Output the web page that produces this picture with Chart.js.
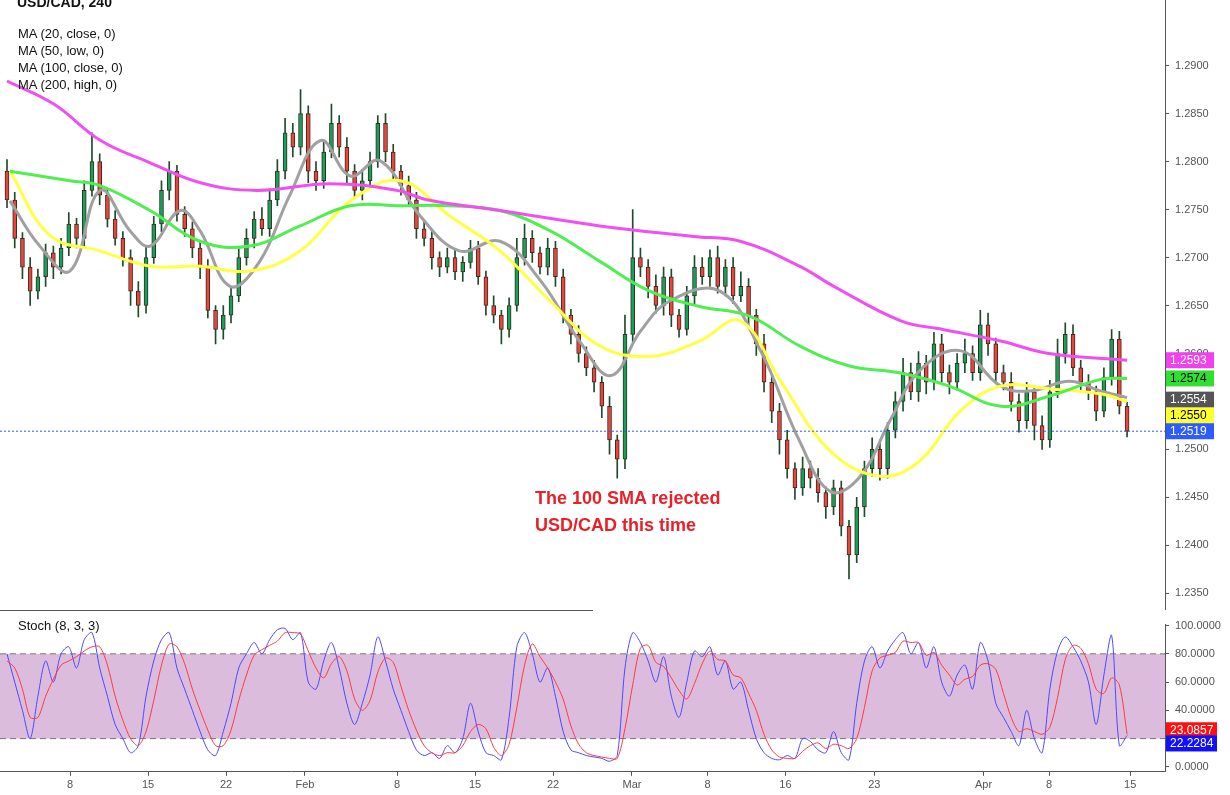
<!DOCTYPE html>
<html>
<head>
<meta charset="utf-8">
<script src="https://cdn.jsdelivr.net/npm/chart.js@4.4.1/dist/chart.umd.min.js"></script>
<style>
  body { margin: 0; background: #fff; font-family: Arial, "Liberation Sans", sans-serif; }
  #wrap { position: relative; width: 1230px; height: 795px; overflow: hidden; }
  canvas { position: absolute; left: 0; }
  #main { top: -12px; }
  #stoch { top: 612px; }
  .txt { position: absolute; color: #111; font-size: 13px; }
  .note { position: absolute; color: #e8202a; font-size: 18px; font-weight: bold; line-height: 27px; }
  #sep { position: absolute; left: 0; top: 610px; width: 593px; border-top: 1px solid #555; }
</style>
</head>
<body>
<div id="wrap">
  <canvas id="main" width="1230" height="634"></canvas>
  <canvas id="stoch" width="1230" height="183"></canvas>
  <div id="sep"></div>
  <div class="txt" style="left:17px;top:-6px;font-weight:bold;font-size:14px">USD/CAD, 240</div>
  <div class="txt" style="left:18px;top:26px">MA (20, close, 0)</div>
  <div class="txt" style="left:18px;top:43px">MA (50, low, 0)</div>
  <div class="txt" style="left:18px;top:60px">MA (100, close, 0)</div>
  <div class="txt" style="left:18px;top:77px">MA (200, high, 0)</div>
  <div class="txt" style="left:18px;top:618px">Stoch (8, 3, 3)</div>
  <div class="note" style="left:535px;top:485px">The 100 SMA rejected<br>USD/CAD this time</div>
</div>
<script>
// 4h candles, two per trading day (x in trading days from Jan 4)
const firstOpen = 1.2790;
const closes = [
  1.2760,1.2720,1.2690,1.2665,1.2680,1.2705,1.2690,1.2710,1.2735,1.2720,
  1.2770,1.2800,1.2765,1.2740,1.2720,1.2700,1.2665,1.2650,1.2700,1.2735,
  1.2770,1.2790,1.2745,1.2730,1.2710,1.2690,1.2645,1.2625,1.2640,1.2660,
  1.2700,1.2720,1.2740,1.2730,1.2760,1.2790,1.2830,1.2815,1.2850,1.2790,
  1.2780,1.2810,1.2840,1.2815,1.2790,1.2770,1.2780,1.2800,1.2840,1.2810,
  1.2790,1.2775,1.2760,1.2730,1.2720,1.2700,1.2690,1.2700,1.2685,1.2695,
  1.2710,1.2680,1.2650,1.2640,1.2625,1.2650,1.2700,1.2720,1.2705,1.2690,
  1.2710,1.2680,1.2640,1.2620,1.2600,1.2585,1.2570,1.2545,1.2510,1.2490,
  1.2620,1.2700,1.2690,1.2670,1.2650,1.2680,1.2640,1.2625,1.2660,1.2690,
  1.2680,1.2700,1.2670,1.2690,1.2660,1.2670,1.2640,1.2610,1.2570,1.2540,
  1.2510,1.2480,1.2460,1.2480,1.2470,1.2455,1.2440,1.2460,1.2420,1.2390,
  1.2440,1.2480,1.2500,1.2480,1.2520,1.2550,1.2580,1.2560,1.2590,1.2570,
  1.2610,1.2580,1.2570,1.2590,1.2600,1.2580,1.2630,1.2610,1.2580,1.2570,
  1.2550,1.2530,1.2560,1.2525,1.2510,1.2560,1.2600,1.2620,1.2585,1.2570,
  1.2560,1.2540,1.2575,1.2615,1.2545,1.2519
];
// wick lengths in pips above / below the body
const wickUp = [
  12,8,6,10,8,9,7,10,12,6, 10,30,8,6,9,7,8,10,12,8, 10,10,6,8,7,6,8,5,10,8,
  9,10,8,12,10,12,15,10,25,8, 10,12,20,8,10,7,12,10,8,10, 8,6,10,8,7,9,6,10,8,6,
  8,7,6,10,5,8,20,15,8,6, 10,7,8,6,9,7,8,6,10,5, 20,50,10,8,12,10,8,6,10,12,
  10,8,12,8,10,15,8,6,10,8, 8,10,6,12,8,10,6,8,7,6, 10,8,12,10,8,10,15,10,12,8,
  12,10,8,10,15,8,15,12,6,8, 10,8,10,6,10,12,15,12,10,8, 8,6,10,10,8,4
];
const wickDown = [
  8,10,12,15,8,10,12,7,8,10, 8,6,10,8,7,9,15,12,8,6, 8,10,7,8,10,12,8,15,10,8,
  6,8,10,7,8,6,8,10,8,12, 10,8,6,10,12,8,10,8,6,10, 8,10,7,10,8,12,10,6,8,10,
  6,8,10,8,15,8,6,8,10,7, 8,10,8,10,9,8,10,12,15,20, 10,8,10,12,8,10,12,8,6,10,
  8,10,7,10,8,6,10,12,10,12, 15,10,12,8,10,10,12,8,10,25, 8,10,8,12,10,8,10,8,10,12,
  8,10,12,8,10,8,8,12,10,8, 10,12,8,15,10,8,6,10,8,10, 8,10,6,8,8,6
];
// moving averages, [trading day, price]
const ma20 = [[0.19,1.2759],[2.1,1.2712],[4.04,1.2686],[5.96,1.2770],[7.88,1.2728],[9.17,1.2712],[11.1,1.2749],[12.37,1.2728],[14.3,1.2670],[16.2,1.2696],[18.1,1.2764],[20.1,1.2822],[22,1.2785],[23.9,1.2801],[26.5,1.2743],[29,1.2707],[31.6,1.2717],[34.2,1.2676],[36.7,1.2613],[38.7,1.2577],[40.6,1.2623],[42.5,1.2655],[45.7,1.2665],[48.3,1.2603],[50.8,1.2509],[52.8,1.2456],[54.7,1.2472],[56.6,1.2530],[58.5,1.2582],[61.1,1.2603],[63.7,1.2566],[65.6,1.2561],[68.1,1.2571],[70.1,1.2561],[71.8,1.2554]];
const ma50 = [[0.19,1.2790],[2.76,1.2723],[5.96,1.2707],[9.17,1.2691],[12.37,1.2691],[15.58,1.2686],[18.8,1.2707],[22,1.2759],[25.2,1.2780],[28.4,1.2743],[31.6,1.2707],[34.8,1.2655],[38,1.2608],[41.2,1.2597],[44.4,1.2613],[47,1.2634],[49.6,1.2571],[52.8,1.2498],[56,1.2472],[58.5,1.2488],[61.1,1.2540],[63.7,1.2566],[66.9,1.2563],[70.1,1.2558],[71.8,1.2550]];
const ma100 = [[0.19,1.2790],[4.04,1.2780],[5.96,1.2775],[9.17,1.2749],[12.37,1.2717],[15.58,1.2712],[18.8,1.2733],[22,1.2754],[25.2,1.2754],[28.4,1.2754],[31.6,1.2749],[34.8,1.2728],[38,1.2696],[41.2,1.2665],[44.4,1.2649],[47.6,1.2639],[50.8,1.2608],[54,1.2587],[57.2,1.2580],[60.4,1.2566],[63.7,1.2545],[66.9,1.2556],[70.1,1.2573],[71.8,1.2574]];
const ma200 = [[0,1.2884],[3,1.2860],[6,1.2822],[9,1.2800],[12.4,1.2778],[16,1.2770],[20.7,1.2777],[25,1.2770],[27,1.2760],[31.6,1.2749],[38,1.2733],[44,1.2722],[47,1.2717],[50.8,1.2691],[53,1.2670],[57.3,1.2634],[60,1.2625],[63.7,1.2613],[66.8,1.2600],[71.8,1.2593]];
// stochastic %K and %D
const stochK = [
  80,60,40,20,50,75,60,80,85,70, 90,95,70,50,30,20,10,15,50,75, 90,95,70,55,40,25,12,8,25,45,
  70,80,88,80,90,97,98,90,95,60, 55,75,88,70,45,30,45,65,92,75, 55,40,25,12,8,10,6,15,10,20,
  45,25,10,8,5,35,85,95,80,60, 70,50,25,12,10,8,7,6,4,8, 70,95,88,75,60,78,50,35,60,82,
  78,85,65,75,55,60,40,20,10,6, 5,8,6,20,18,12,10,25,10,5, 45,75,85,70,82,90,95,80,88,70,
  85,60,50,65,72,55,88,75,45,35, 25,15,40,20,10,55,82,92,85,75, 60,30,65,93,15,22.2284
];
const stochD = [
  75,70,55,35,35,50,62,72,75,78, 82,85,85,72,50,33,20,15,25,47, 72,87,85,73,55,40,26,15,15,26,
  47,65,79,83,86,89,95,95,94,82, 70,63,73,78,68,48,40,47,67,77, 74,57,40,26,15,10,8,10,10,15,
  25,30,27,14,8,16,42,72,87,78, 70,60,48,29,16,10,8,7,6,6, 27,58,84,86,74,71,63,54,48,59,
  73,82,76,75,65,63,52,40,23,12, 7,6,6,11,15,17,13,16,15,13, 20,42,68,77,79,81,89,88,88,79,
  81,72,65,58,62,64,72,73,69,52, 35,25,27,25,23,28,49,76,86,84, 73,55,52,63,58,23.0857
];
const priceTicks = [1.235,1.24,1.245,1.25,1.255,1.26,1.265,1.27,1.275,1.28,1.285,1.29];
const stochTicks = [0,20,40,60,80,100];
const dayTicks = [4.04,9.04,14.04,19.1,25,30,35,40.06,44.9,49.9,55.6,62.6,66.8,72];
const dayLabels = ['8','15','22','Feb','8','15','22','Mar','8','16','23','Apr','8','15'];

const lastX = 71.8;
const xOf = i => i * lastX / (closes.length - 1);
const opens = closes.map((c, i) => i === 0 ? firstOpen : closes[i - 1]);
const bodies = closes.map((c, i) => ({ x: xOf(i), y: [opens[i], c] }));
const wicks = closes.map((c, i) => ({
  x: xOf(i),
  y: [Math.min(opens[i], c) - wickDown[i] / 10000, Math.max(opens[i], c) + wickUp[i] / 10000]
}));
const bodyColors = closes.map((c, i) => c >= opens[i] ? '#12a35a' : '#e8463c');
const pts = arr => arr.map(p => ({ x: p[0], y: p[1] }));

const X_MIN = -7 / 15.6, X_MAX = 1158 / 15.6;
const axisFont = { family: 'Arial, "Liberation Sans", sans-serif', size: 11 };
const fixWidth = s => { s.width = 65; };

const priceLabels = {
  id: 'priceLabels',
  afterDatasetsDraw(chart) {
    const { ctx, chartArea, scales: { y } } = chart;
    const py = y.getPixelForValue(1.2519);
    ctx.save();
    ctx.strokeStyle = '#2d5bff';
    ctx.setLineDash([2, 2]);
    ctx.lineWidth = 1;
    ctx.beginPath(); ctx.moveTo(chartArea.left, py); ctx.lineTo(chartArea.right, py); ctx.stroke();
    ctx.setLineDash([]);
    // value, box colour, text colour, vertical nudge so boxes do not overlap
    const tags = [[1.2593, '#f040f0', '#fff', 0], [1.2574, '#30e030', '#000', 0], [1.2554, '#555', '#fff', 2], [1.2550, '#ffff30', '#000', 14], [1.2519, '#2d5bff', '#fff', 0]];
    ctx.font = '12px Arial, "Liberation Sans", sans-serif';
    ctx.textBaseline = 'middle';
    tags.forEach(t => {
      const yy = y.getPixelForValue(t[0]) + t[3];
      ctx.fillStyle = t[1];
      ctx.fillRect(chartArea.right + 1, yy - 8, 48, 16);
      ctx.fillStyle = t[2];
      ctx.fillText(t[0].toFixed(4), chartArea.right + 5, yy);
    });
    ctx.restore();
  }
};

new Chart(document.getElementById('main'), {
  type: 'bar',
  data: {
    datasets: [
      { type: 'line', data: pts(ma200), borderColor: '#f050f0', borderWidth: 3, pointRadius: 0, tension: 0.4, order: 1 },
      { type: 'line', data: pts(ma100), borderColor: '#50ee50', borderWidth: 3, pointRadius: 0, tension: 0.4, order: 1 },
      { type: 'line', data: pts(ma50), borderColor: '#ffff44', borderWidth: 3, pointRadius: 0, tension: 0.4, order: 1 },
      { type: 'line', data: pts(ma20), borderColor: '#a0a0a0', borderWidth: 3, pointRadius: 0, tension: 0.4, order: 1 },
      { data: wicks, backgroundColor: '#1f4a2c', barThickness: 1, grouped: false, order: 3 },
      { data: bodies, backgroundColor: bodyColors, borderColor: '#3a2a20', borderWidth: 1, borderSkipped: false, barThickness: 4, grouped: false, order: 2 }
    ]
  },
  options: {
    responsive: false, animation: false,
    layout: { padding: 0 },
    plugins: { legend: { display: false }, tooltip: { enabled: false } },
    scales: {
      x: { type: 'linear', min: X_MIN, max: X_MAX, display: false, offset: false },
      y: {
        position: 'right', min: 1.23333, max: 1.29678, afterFit: fixWidth,
        afterBuildTicks: s => { s.ticks = priceTicks.map(v => ({ value: v })); },
        grid: { drawOnChartArea: false, tickLength: 4, color: '#555' },
        border: { color: '#555' },
        ticks: { font: axisFont, color: '#555', padding: 6, callback: v => v.toFixed(4) }
      }
    }
  },
  plugins: [priceLabels]
});

const stochBand = {
  id: 'stochBand',
  beforeDatasetsDraw(chart) {
    const { ctx, chartArea, scales: { y } } = chart;
    const y80 = y.getPixelForValue(80), y20 = y.getPixelForValue(20);
    ctx.save();
    ctx.fillStyle = '#dcbcdd';
    ctx.fillRect(chartArea.left, y80, chartArea.right - chartArea.left, y20 - y80);
    ctx.strokeStyle = '#777';
    ctx.setLineDash([6, 4]);
    [y80, y20].forEach(p => { ctx.beginPath(); ctx.moveTo(chartArea.left, p); ctx.lineTo(chartArea.right, p); ctx.stroke(); });
    ctx.restore();
  },
  afterDatasetsDraw(chart) {
    const { ctx, chartArea, scales: { y } } = chart;
    ctx.save();
    ctx.font = '12px Arial, "Liberation Sans", sans-serif';
    ctx.textBaseline = 'middle';
    [[23.0857, '#ff1010', -4], [22.2284, '#1010ff', 8]].forEach(t => {
      const yy = y.getPixelForValue(t[0]) + t[2];
      ctx.fillStyle = t[1];
      ctx.fillRect(chartArea.right + 1, yy - 8, 51, 16);
      ctx.fillStyle = '#fff';
      ctx.fillText(t[0].toFixed(4), chartArea.right + 5, yy);
    });
    ctx.restore();
  }
};

new Chart(document.getElementById('stoch'), {
  type: 'line',
  data: {
    datasets: [
      { data: stochD.map((v, i) => ({ x: xOf(i), y: v })), borderColor: '#ff3b3b', borderWidth: 1, pointRadius: 0, tension: 0.3 },
      { data: stochK.map((v, i) => ({ x: xOf(i), y: v })), borderColor: '#4a4aff', borderWidth: 1, pointRadius: 0, tension: 0.3 }
    ]
  },
  options: {
    responsive: false, animation: false,
    layout: { padding: { top: 1, left: 0, right: 0, bottom: 0 } },
    plugins: { legend: { display: false }, tooltip: { enabled: false } },
    scales: {
      x: {
        type: 'linear', min: X_MIN, max: X_MAX,
        afterBuildTicks: s => { s.ticks = dayTicks.map(v => ({ value: v })); },
        grid: { drawOnChartArea: false, tickLength: 4, color: '#555' },
        border: { color: '#555' },
        ticks: { font: axisFont, color: '#555', maxRotation: 0, autoSkip: false, callback: (v, i) => dayLabels[i] }
      },
      y: {
        position: 'right', min: -3.5, max: 100.7, afterFit: fixWidth,
        afterBuildTicks: s => { s.ticks = stochTicks.map(v => ({ value: v })); },
        grid: { drawOnChartArea: false, tickLength: 4, color: '#555' },
        border: { color: '#555' },
        ticks: { font: axisFont, color: '#555', padding: 6, callback: v => v.toFixed(4) }
      }
    }
  },
  plugins: [stochBand]
});
</script>
</body>
</html>
